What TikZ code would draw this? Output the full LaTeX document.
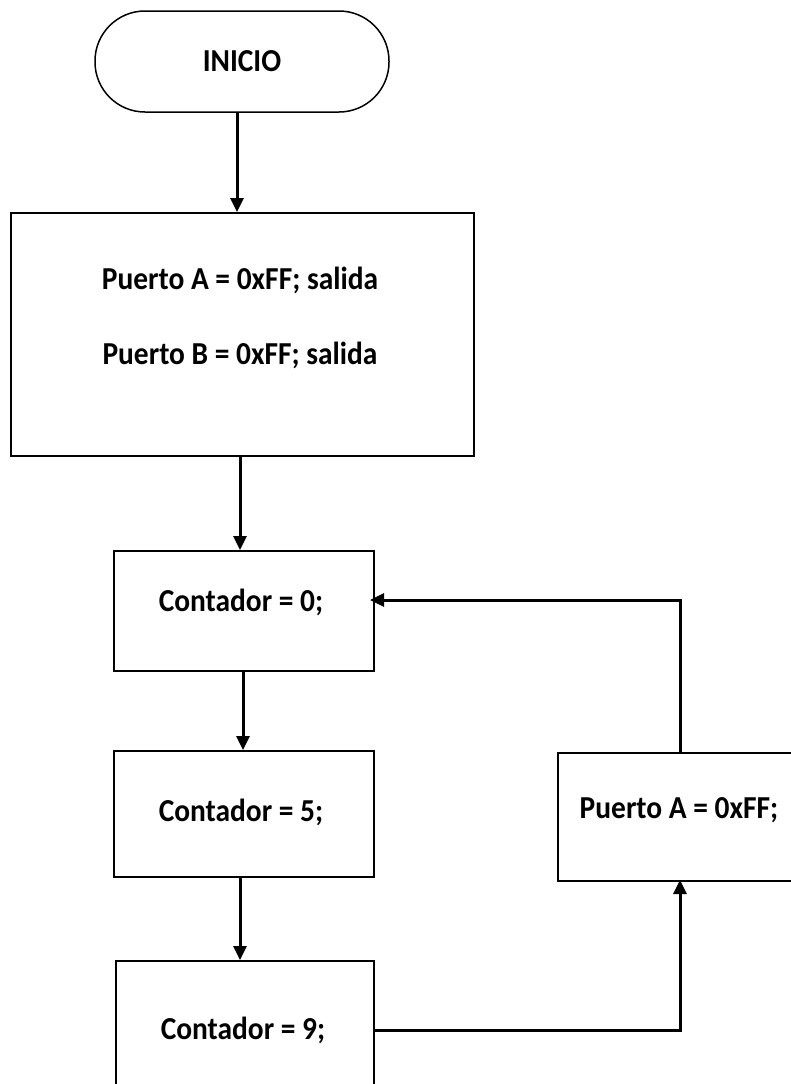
\documentclass[tikz,border=0pt]{standalone}
\usepackage{fontspec}
\setmainfont{Carlito}[FakeStretch=0.92]
\usetikzlibrary{arrows.meta}
\begin{document}
\begin{tikzpicture}[x=1pt,y=-1pt,
  font=\fontsize{32}{38}\selectfont\bfseries,
  box/.style={draw, line width=1.5pt, rectangle, inner sep=0pt, anchor=north west},
  link/.style={line width=3pt, -{Triangle[length=14pt,width=13pt]}}]
\useasboundingbox (0,0) rectangle (791,1084);
\clip (0,0) rectangle (791,1084);
% start terminal
\draw[line width=1.5pt, rounded corners=50] (95,11) rectangle (389,112);
\node (inicio) at (242,61) {INICIO};
\coordinate (inicioS) at (237,112);
% port setup
\node[box, minimum width=463, minimum height=243] (ports) at (10,212) {};
\node (pa) at (240,280) {Puerto A = 0xFF; salida};
\node (pb) at (240,355) {Puerto B = 0xFF; salida};
% counter assignments
\node[box, minimum width=260, minimum height=120] (c0) at (113,550) {};
\node (t0) at (241,602) {Contador = 0;};
\node[box, minimum width=260, minimum height=126] (c5) at (113,750) {};
\node (t5) at (241,812) {Contador = 5;};
\node[box, minimum width=258, minimum height=140] (c9) at (115,960) {};
\node (t9) at (243,1030) {Contador = 9;};
% port A reset
\node[box, minimum width=260, minimum height=128] (pr) at (557,752) {};
\node (tpr) at (679,810) {Puerto A = 0xFF;};
% connectors
\draw[link] (inicioS) -- (237,212);
\draw[link] (240,455) -- (240,550);
\draw[link] (243,670) -- (243,750);
\draw[link] (240,876) -- (240,960);
\draw[link] (373,1030) -- (680,1030) -- (680,880);
\draw[link] (680,752) -- (680,600) -- (370,600);
\end{tikzpicture}
\end{document}
